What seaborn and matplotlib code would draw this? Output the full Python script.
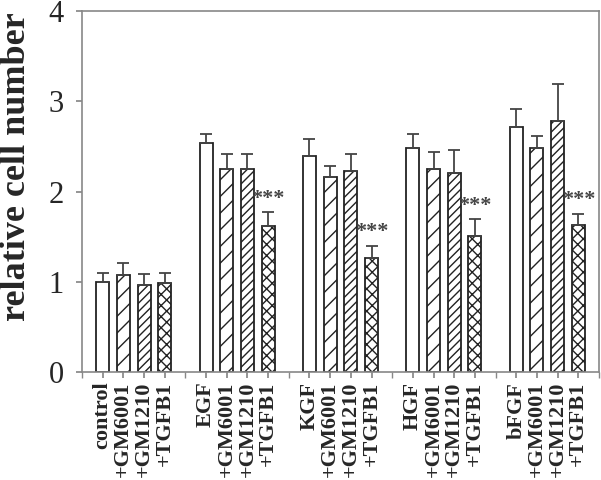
import numpy as np
import pandas as pd
import matplotlib
matplotlib.use('Agg')
import matplotlib.pyplot as plt
import seaborn as sns

# values
groups = ['control', 'EGF', 'KGF', 'HGF', 'bFGF']
treatments = ['none', '+GM6001', '+GM1210', '+TGFB1']
means = {
    'none':    [1.00, 2.54, 2.39, 2.48, 2.71],
    '+GM6001': [1.08, 2.25, 2.16, 2.25, 2.48],
    '+GM1210': [0.96, 2.25, 2.23, 2.21, 2.78],
    '+TGFB1':  [0.99, 1.62, 1.26, 1.51, 1.63],
}
errors = {
    'none':    [0.10, 0.10, 0.19, 0.16, 0.20],
    '+GM6001': [0.13, 0.17, 0.12, 0.19, 0.13],
    '+GM1210': [0.13, 0.17, 0.19, 0.25, 0.41],
    '+TGFB1':  [0.11, 0.15, 0.14, 0.18, 0.12],
}
stars = ['', '***', '***', '***', '***']

rows = []
for t in treatments:
    for g, m, e in zip(groups, means[t], errors[t]):
        rows.append({'group': g, 'treatment': t, 'value': m, 'err': e})
df = pd.DataFrame(rows)

sns.set_theme(style='ticks')
plt.rcParams['font.family'] = ['Liberation Serif', 'DejaVu Serif']
plt.rcParams['hatch.linewidth'] = 1.0
plt.rcParams['hatch.color'] = '#222222'

fig, ax = plt.subplots(figsize=(6.01, 4.8), dpi=100)
fig.subplots_adjust(left=0.1364, right=0.9967, top=0.977, bottom=0.225)

sns.barplot(data=df, x='group', y='value', hue='treatment',
            order=groups, hue_order=treatments,
            palette=['white'] * 4, edgecolor='#222222', linewidth=1.3,
            gap=0.37, errorbar=None, legend=False, ax=ax)

hatches = ['', '//', '////', 'xxx']
centers = []
for cont, h, t in zip(ax.containers, hatches, treatments):
    xs = []
    for bar in cont:
        bar.set_hatch(h)
        xs.append(bar.get_x() + bar.get_width() / 2)
    xs = np.array(xs)
    centers.append(xs)
    vals = np.array(means[t])
    errs = np.array(errors[t])
    ax.errorbar(xs, vals, yerr=[np.zeros_like(errs), errs], fmt='none',
                ecolor='#444444', elinewidth=1.3, capsize=4.5, capthick=1.3)
    if t == '+TGFB1':
        for x, v, e, s in zip(xs, vals, errs, stars):
            if s:
                ax.text(x, v + e + 0.04, s, ha='center', va='bottom',
                        fontsize=16, fontweight='bold', color='#444444')

# tick labels: group name under the first bar, treatment names after
tick_pos = []
tick_lab = []
for gi, g in enumerate(groups):
    for ti, t in enumerate(treatments):
        tick_pos.append(centers[ti][gi])
        tick_lab.append(g if ti == 0 else t)
order = np.argsort(tick_pos)
ax.set_xticks(np.array(tick_pos)[order])
ax.set_xticklabels(np.array(tick_lab)[order], rotation=90, fontsize=16,
                   fontweight='bold', va='top')
ax.set_xticks(np.arange(-0.5, 5.0, 1.0), minor=True)

ax.set_xlim(-0.5, 4.5)
ax.set_ylim(0, 4)
ax.set_yticks([0, 1, 2, 3, 4])
ax.tick_params(axis='y', labelsize=22, length=4, color='#888888', pad=9)
ax.tick_params(axis='x', which='both', length=4, color='#888888', pad=3)
ax.set_xlabel('')
ax.set_ylabel('relative cell number', fontsize=26, fontweight='bold')
ax.yaxis.set_label_coords(-0.095, 0.57)

for sp in ax.spines.values():
    sp.set_color('#888888')
    sp.set_linewidth(1.2)

fig.savefig('out.png', dpi=100)
